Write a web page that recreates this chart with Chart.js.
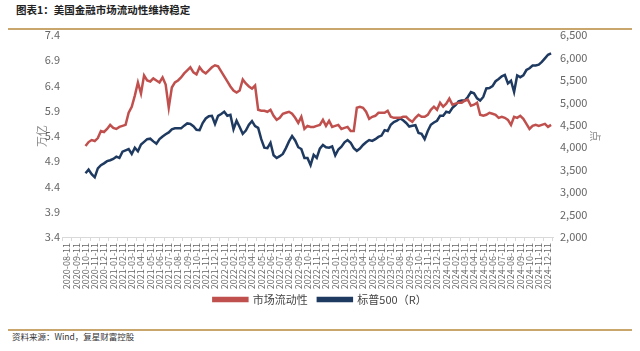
<!DOCTYPE html>
<html>
<head>
<meta charset="utf-8">
<script src="https://cdn.jsdelivr.net/npm/chart.js@4.4.1/dist/chart.umd.min.js"></script>
<style>
  html, body { margin: 0; padding: 0; background: #fff; }
  body { width: 640px; height: 351px; position: relative; overflow: hidden; font-family: "Noto Sans CJK SC", sans-serif; }
  #title { position: absolute; left: 16px; top: 2px; font-size: 10.5px; font-weight: bold; color: #222; }
  .rule { position: absolute; left: 8px; right: 8px; height: 2px; background: #c9a66b; }
  #src { position: absolute; left: 12px; top: 330px; font-size: 8.5px; color: #333; }
  #chart { position: absolute; left: 0; top: 0; }
</style>
</head>
<body>
<div id="title">图表1：美国金融市场流动性维持稳定</div>
<div class="rule" style="top:28px"></div>
<canvas id="chart" width="640" height="325"></canvas>
<div class="rule" style="top:329px"></div>
<div id="src">资料来源：Wind，复星财富控股</div>
<script>
// monthly tick labels on the x axis
const monthLabels = [
    '2020-08-11', '2020-09-11', '2020-10-11', '2020-11-11', '2020-12-11',
    '2021-01-11', '2021-02-11', '2021-03-11', '2021-04-11', '2021-05-11', '2021-06-11',
    '2021-07-11', '2021-08-11', '2021-09-11', '2021-10-11', '2021-11-11', '2021-12-11',
    '2022-01-11', '2022-02-11', '2022-03-11', '2022-04-11', '2022-05-11', '2022-06-11',
    '2022-07-11', '2022-08-11', '2022-09-11', '2022-10-11', '2022-11-11', '2022-12-11',
    '2023-01-11', '2023-02-11', '2023-03-11', '2023-04-11', '2023-05-11', '2023-06-11',
    '2023-07-11', '2023-08-11', '2023-09-11', '2023-10-11', '2023-11-11', '2023-12-11',
    '2024-01-11', '2024-02-11', '2024-03-11', '2024-04-11', '2024-05-11', '2024-06-11',
    '2024-07-11', '2024-08-11', '2024-09-11', '2024-10-11', '2024-11-11', '2024-12-11'
];

// series start at 2020-10-11 (label index 2), three readings per month
const startMonth = 2;
const perMonth = 3;

// 市场流动性, 万亿
const liquidity = [
    5.2, 5.28, 5.32, 5.3, 5.36, 5.5, 5.48, 5.54, 5.62, 5.56,
    5.54, 5.58, 5.6, 5.62, 5.86, 5.98, 6.2, 6.46, 6.24, 6.6,
    6.5, 6.48, 6.54, 6.5, 6.46, 6.56, 6.42, 5.96, 6.36, 6.46,
    6.5, 6.56, 6.64, 6.7, 6.76, 6.66, 6.62, 6.76, 6.68, 6.64,
    6.7, 6.76, 6.8, 6.78, 6.68, 6.58, 6.48, 6.38, 6.3, 6.26,
    6.3, 6.52, 6.44, 6.38, 6.34, 6.4, 5.92, 5.9, 5.9, 5.88,
    5.92, 5.8, 5.72, 5.76, 5.84, 5.86, 5.88, 5.84, 5.76, 5.66,
    5.78, 5.54, 5.6, 5.58, 5.58, 5.6, 5.62, 5.72, 5.6, 5.7,
    5.58, 5.6, 5.62, 5.54, 5.56, 5.58, 5.5, 5.5, 5.96, 5.98,
    5.96, 5.88, 5.74, 5.78, 5.8, 5.86, 5.86, 5.86, 5.9, 5.78,
    5.76, 5.76, 5.76, 5.78, 5.78, 5.72, 5.68, 5.76, 5.82, 5.78,
    5.78, 5.82, 5.92, 5.98, 5.92, 6.06, 5.98, 6.04, 6.14, 6.02,
    6.04, 6.06, 6.06, 6.1, 6.12, 6.0, 6.02, 6.06, 5.82, 5.8,
    5.82, 5.86, 5.84, 5.82, 5.76, 5.78, 5.76, 5.72, 5.62, 5.78,
    5.76, 5.8, 5.74, 5.64, 5.54, 5.6, 5.62, 5.6, 5.62, 5.64,
    5.58, 5.62
];

// 标普500 (right axis)
const spx = [
    3420, 3500, 3400, 3330, 3530, 3600, 3640, 3690, 3710, 3740,
    3790, 3760, 3900, 3930, 3960, 3850, 3990, 3910, 4060, 4120,
    4180, 4190, 4130, 4080, 4180, 4240, 4290, 4330, 4400, 4420,
    4420, 4420, 4480, 4530, 4520, 4470, 4390, 4380, 4540, 4640,
    4690, 4700, 4520, 4700, 4740, 4790, 4700, 4720, 4400, 4590,
    4450, 4300, 4370, 4500, 4580, 4470, 4430, 4180, 3990, 3980,
    4100, 3820, 3760, 3800, 3850, 3980, 4130, 4250, 4150, 4000,
    3960, 3760, 3760, 3600, 3830, 3760, 3970, 4050, 4000, 3990,
    4020, 3820, 3950, 4010, 4110, 4160, 4100, 3980, 3920, 3970,
    4050, 4110, 4160, 4140, 4180, 4230, 4260, 4380, 4360, 4500,
    4560, 4590, 4640, 4600, 4540, 4460, 4480, 4490, 4320, 4300,
    4180, 4360, 4500, 4550, 4590, 4700, 4700, 4790, 4770, 4880,
    4940, 5020, 5040, 5040, 5120, 5230, 5200, 5090, 5040, 5120,
    5310, 5320, 5360, 5470, 5520, 5580, 5610, 5420, 5480, 5230,
    5600, 5560, 5600, 5720, 5760, 5820, 5820, 5840, 5900, 5980,
    6060, 6090
];

const toPoints = arr => arr.map((v, i) => ({ x: startMonth + i / perMonth, y: v }));

const tickColor = '#666';
const FONT = '"Noto Sans CJK SC", sans-serif';

// pull the legend up a little so it sits just under the date labels
const liftLegend = {
    id: 'liftLegend',
    afterLayout(chart) {
        chart.legend.top -= 8;
        chart.legend.bottom -= 8;
    }
};

new Chart(document.getElementById('chart'), {
    type: 'line',
    data: {
        datasets: [
            {
                label: '市场流动性',
                data: toPoints(liquidity),
                yAxisID: 'y',
                borderColor: '#c0504d',
                backgroundColor: '#c0504d',
                borderWidth: 2.5,
                pointRadius: 0,
                tension: 0
            },
            {
                label: '标普500（R）',
                data: toPoints(spx),
                yAxisID: 'y1',
                borderColor: '#1f3a60',
                backgroundColor: '#1f3a60',
                borderWidth: 2.5,
                pointRadius: 0,
                tension: 0
            }
        ]
    },
    plugins: [liftLegend],
    options: {
        responsive: false,
        animation: false,
        layout: { padding: { top: 35, left: 0, right: 0, bottom: 2 } },
        plugins: {
            tooltip: { enabled: false },
            legend: {
                position: 'bottom',
                labels: {
                    boxWidth: 34, boxHeight: 3, padding: 10,
                    color: '#444',
                    font: { family: FONT, size: 11 }
                }
            }
        },
        scales: {
            x: {
                type: 'linear',
                min: -0.54, max: 52.54,
                afterBuildTicks: s => { s.ticks = monthLabels.map((_, i) => ({ value: i })); },
                afterFit: s => { s.height = 55; },
                grid: { drawOnChartArea: false, offset: true, tickLength: 4, color: '#d9d9d9' },
                border: { color: '#d9d9d9' },
                ticks: {
                    autoSkip: false, maxRotation: 90, minRotation: 90, padding: 2,
                    color: tickColor,
                    font: { family: FONT, size: 9 },
                    callback: v => monthLabels[v]
                }
            },
            y: {
                position: 'left',
                min: 3.4, max: 7.4,
                afterFit: s => { s.width = 62; },
                grid: { display: false, drawTicks: false },
                border: { display: false },
                ticks: {
                    stepSize: 0.5, padding: 2, color: tickColor,
                    font: { family: FONT, size: 11 },
                    callback: v => v.toFixed(1)
                },
                title: {
                    display: true, text: '万亿', color: '#888',
                    padding: { top: 35 },
                    font: { family: FONT, size: 11 }
                }
            },
            y1: {
                position: 'right',
                min: 2000, max: 6500,
                afterFit: s => { s.width = 87; },
                grid: { display: false, drawTicks: false },
                border: { display: false },
                ticks: {
                    stepSize: 500, padding: 7, color: tickColor,
                    font: { family: FONT, size: 11 },
                    callback: v => v.toLocaleString('en-US')
                },
                title: {
                    display: true, text: '点', color: '#888',
                    padding: { top: 38 },
                    font: { family: FONT, size: 11 }
                }
            }
        }
    }
});
</script>
</body>
</html>
